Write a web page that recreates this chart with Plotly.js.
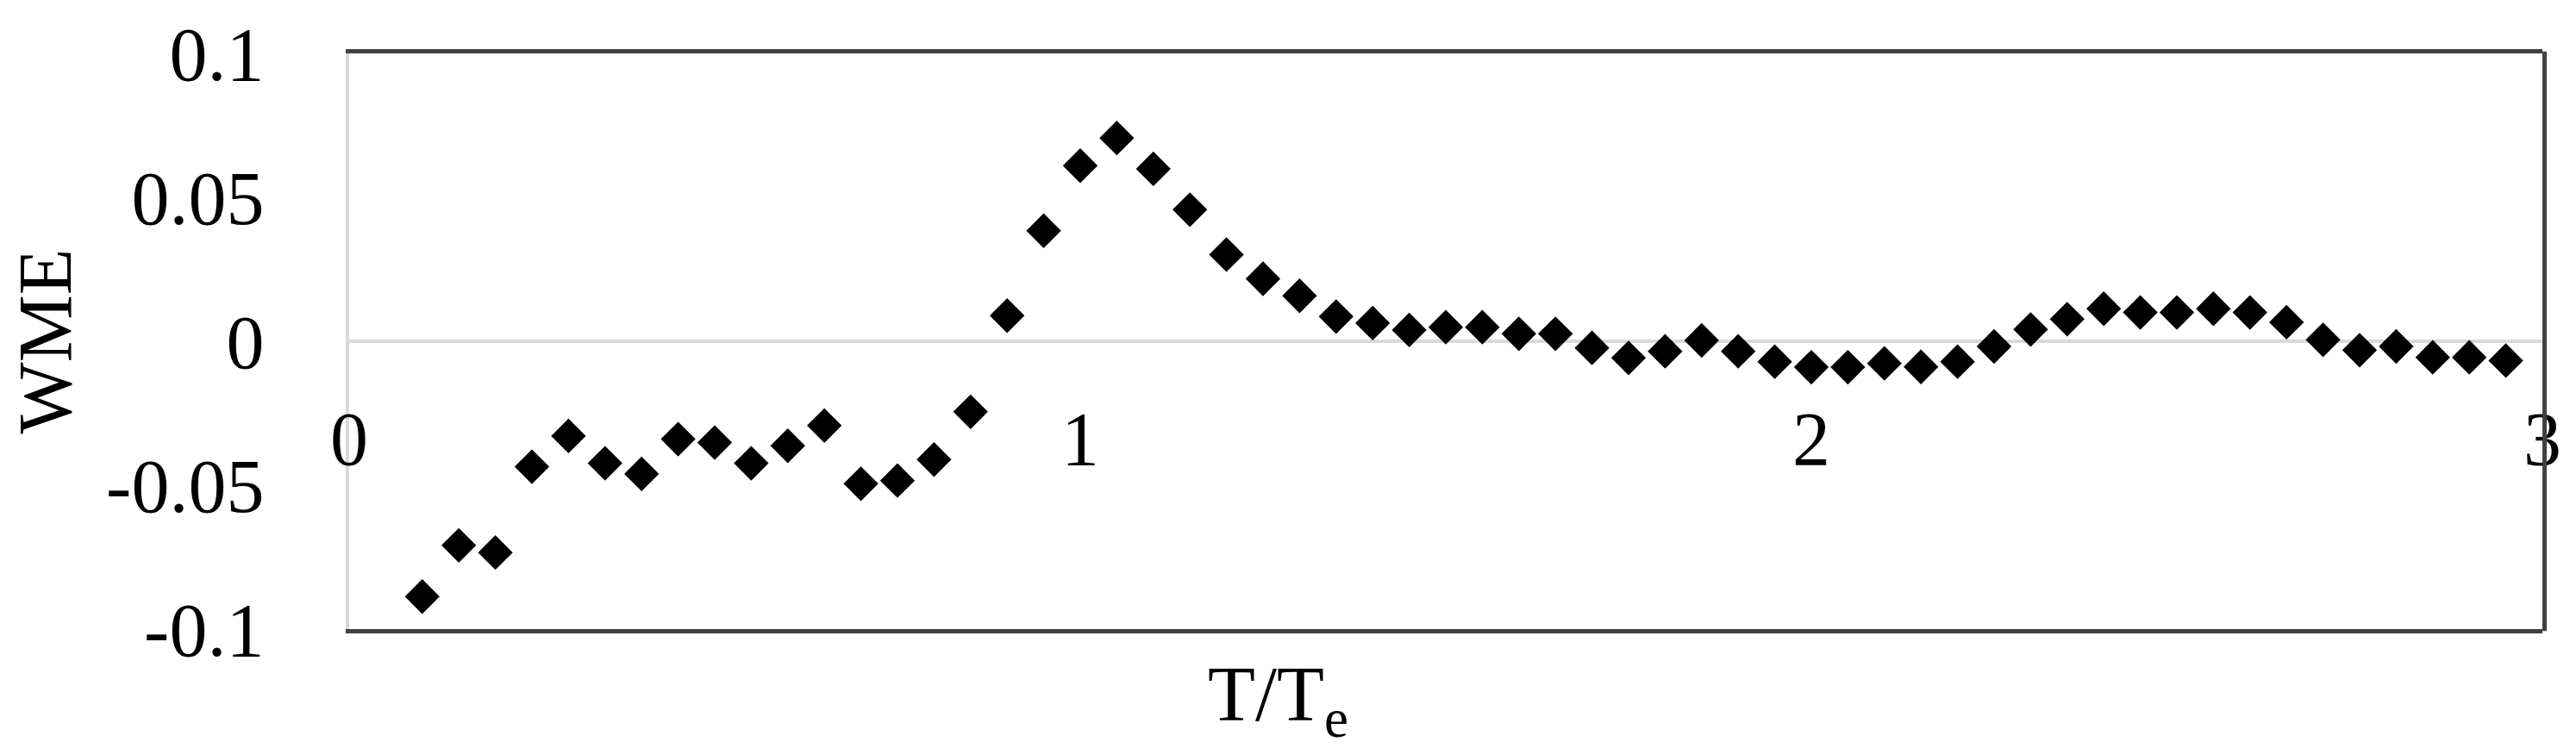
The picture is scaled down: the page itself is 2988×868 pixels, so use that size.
<!DOCTYPE html>
<html>
<head>
<meta charset="utf-8">
<script src="https://cdn.plot.ly/plotly-3.0.1.min.js"></script>
<style>
  html, body { margin: 0; padding: 0; background: #ffffff; }
  #chart { width: 2988px; height: 868px; }
</style>
</head>
<body>
<div id="chart"></div>
<script>
// T/Te ratio (x) and WME values (y)
const ratio = [
  0.10, 0.15, 0.20, 0.25, 0.30, 0.35, 0.40, 0.45, 0.50, 0.55,
  0.60, 0.65, 0.70, 0.75, 0.80, 0.85, 0.90, 0.95, 1.00, 1.05,
  1.10, 1.15, 1.20, 1.25, 1.30, 1.35, 1.40, 1.45, 1.50, 1.55,
  1.60, 1.65, 1.70, 1.75, 1.80, 1.85, 1.90, 1.95, 2.00, 2.05,
  2.10, 2.15, 2.20, 2.25, 2.30, 2.35, 2.40, 2.45, 2.50, 2.55,
  2.60, 2.65, 2.70, 2.75, 2.80, 2.85, 2.90, 2.95
];
const wme = [
  -0.0887, -0.0709, -0.0734, -0.0436, -0.0329, -0.0424, -0.0461, -0.0340, -0.0352, -0.0424,
  -0.0363, -0.0293, -0.0495, -0.0484, -0.0411, -0.0245, 0.0089, 0.0384, 0.0610, 0.0706,
  0.0599, 0.0457, 0.0301, 0.0217, 0.0158, 0.0086, 0.0063, 0.0039, 0.0049, 0.0049,
  0.0026, 0.0026, -0.0023, -0.0058, -0.0035, 0.0003, -0.0035, -0.0071, -0.0090, -0.0090,
  -0.0077, -0.0089, -0.0071, -0.0018, 0.0041, 0.0077, 0.0113, 0.0100, 0.0100, 0.0113,
  0.0100, 0.0066, 0.0005, -0.0031, -0.0018, -0.0056, -0.0056, -0.0067
];

// Axis ticks
const xTickVals = [0, 1, 2, 3];
const xTickText = ["0", "1", "2", "3"];
const yTickVals = [0.1, 0.05, 0, -0.05, -0.1];
const yTickText = ["0.1", "0.05", "0", "-0.05", "-0.1"];

const FONT = "Liberation Serif, Times New Roman, serif";

const trace = {
  x: ratio,
  y: wme,
  type: "scatter",
  mode: "markers",
  marker: { symbol: "diamond", size: 31, color: "#000000", line: { width: 0 } },
  hoverinfo: "skip",
  showlegend: false
};

const layout = {
  width: 2988,
  height: 868,
  paper_bgcolor: "#ffffff",
  plot_bgcolor: "#ffffff",
  margin: { l: 405, r: 39, t: 62, b: 138, pad: 0 },
  font: { family: FONT, size: 88, color: "#000000" },
  showlegend: false,
  xaxis: {
    range: [0, 3],
    showgrid: false,
    zeroline: false,
    showline: true,
    linecolor: "#404040",
    linewidth: 5,
    mirror: true,
    ticks: "",
    tickvals: xTickVals,
    ticktext: xTickText,
    ticklabelstandoff: -302,
    tickfont: { family: FONT, size: 88, color: "#000000" },
    fixedrange: true
  },
  yaxis: {
    range: [-0.1, 0.1],
    showgrid: false,
    zeroline: true,
    zerolinecolor: "#d9d9d9",
    zerolinewidth: 4,
    showline: true,
    linecolor: "#d9d9d9",
    linewidth: 4,
    ticks: "",
    tickvals: yTickVals,
    ticktext: yTickText,
    ticklabelstandoff: 77,
    tickfont: { family: FONT, size: 88, color: "#000000" },
    title: { text: "WME", font: { family: FONT, size: 88, color: "#000000" }, standoff: 12 },
    fixedrange: true
  },
  shapes: [
    {
      type: "line", xref: "paper", yref: "paper",
      x0: 1.001, x1: 1.001, y0: -0.0035, y1: 1.0035,
      line: { color: "#404040", width: 5 }
    }
  ],
  annotations: [
    {
      text: "T/T<sub>e</sub>",
      xref: "paper", yref: "paper",
      x: 0.4234, y: 0, xanchor: "center", yanchor: "top",
      yshift: -24,
      showarrow: false,
      font: { family: FONT, size: 90, color: "#000000" }
    }
  ]
};

Plotly.newPlot("chart", [trace], layout, { displayModeBar: false, staticPlot: true });
</script>
</body>
</html>
